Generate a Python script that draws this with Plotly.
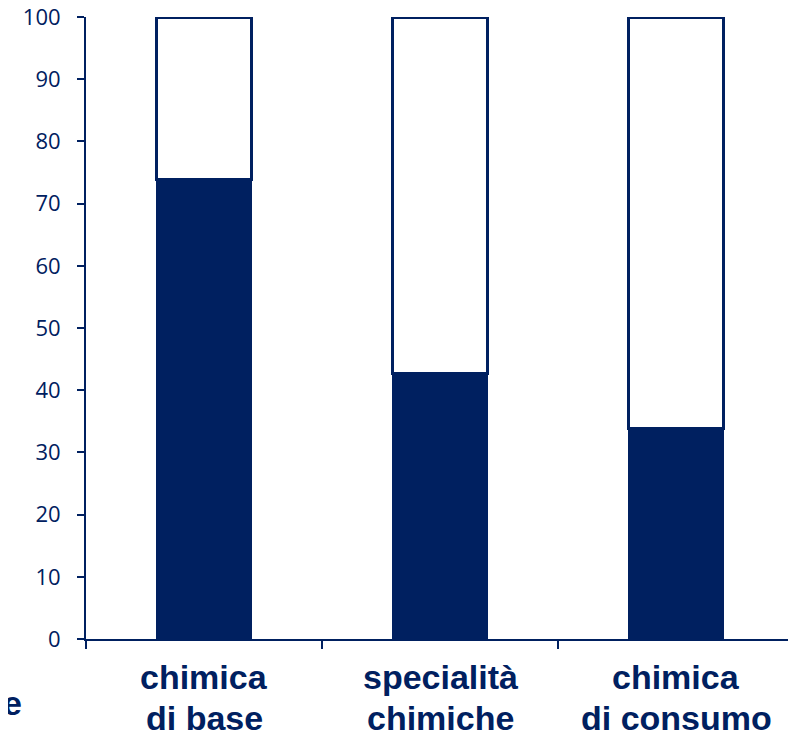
import plotly.graph_objects as go

categories = ["chimica di base", "specialità chimiche", "chimica di consumo"]
label_line1 = ["chimica", "specialità", "chimica"]
label_line2 = ["di base", "chimiche", "di consumo"]
dark_values = [73.8, 42.7, 33.8]
white_values = [100 - v for v in dark_values]
y_ticks = [0, 10, 20, 30, 40, 50, 60, 70, 80, 90, 100]

NAVY = "#002060"

# page has 8px body margin; figure is sized to fill the remaining viewport
W, H = 788, 733
L, R, T, B = 78, 2, 9, 102
PW, PH = W - L - R, H - T - B

fig = go.Figure()
fig.add_trace(go.Bar(
    x=categories, y=dark_values, width=0.4,
    marker=dict(color=NAVY, line=dict(color=NAVY, width=1)),
    cliponaxis=False, showlegend=False,
))
fig.add_trace(go.Bar(
    x=categories, y=white_values, width=0.4,
    marker=dict(color="white", line=dict(color=NAVY, width=3)),
    cliponaxis=False, showlegend=False,
))

label_font = dict(family="Liberation Sans", size=34, color=NAVY, weight="bold")
annotations = []
for cat, l1, l2 in zip(categories, label_line1, label_line2):
    annotations.append(dict(text=l1, x=cat, xref="x", y=-38 / PH, yref="paper",
                            xanchor="center", yanchor="middle", showarrow=False, font=label_font))
    annotations.append(dict(text=l2, x=cat, xref="x", y=-79 / PH, yref="paper",
                            xanchor="center", yanchor="middle", showarrow=False, font=label_font))
annotations.append(dict(
    text="e", xref="paper", yref="paper",
    x=(-7 - L) / PW, y=-64 / PH,
    xanchor="left", yanchor="middle", showarrow=False, font=label_font,
))

fig.update_layout(
    barmode="stack",
    width=W, height=H,
    margin=dict(l=L, r=R, t=T, b=B, pad=0, autoexpand=False),
    plot_bgcolor="white", paper_bgcolor="white",
    showlegend=False,
    xaxis=dict(
        showline=True, linecolor=NAVY, linewidth=2,
        ticks="outside", tickson="boundaries", ticklen=8, tickcolor=NAVY, tickwidth=1.5,
        showticklabels=False, automargin=False,
        showgrid=False, zeroline=False,
    ),
    yaxis=dict(
        range=[0, 100], tickvals=y_ticks,
        showline=True, linecolor=NAVY, linewidth=2,
        ticks="outside", ticklen=7, tickcolor=NAVY, tickwidth=1.5,
        tickfont=dict(family="Open Sans", size=22, color=NAVY),
        ticklabelstandoff=12, ticklabeloverflow="allow", automargin=False,
        showgrid=False, zeroline=False,
    ),
    annotations=annotations,
)

fig.write_html("out.html")
